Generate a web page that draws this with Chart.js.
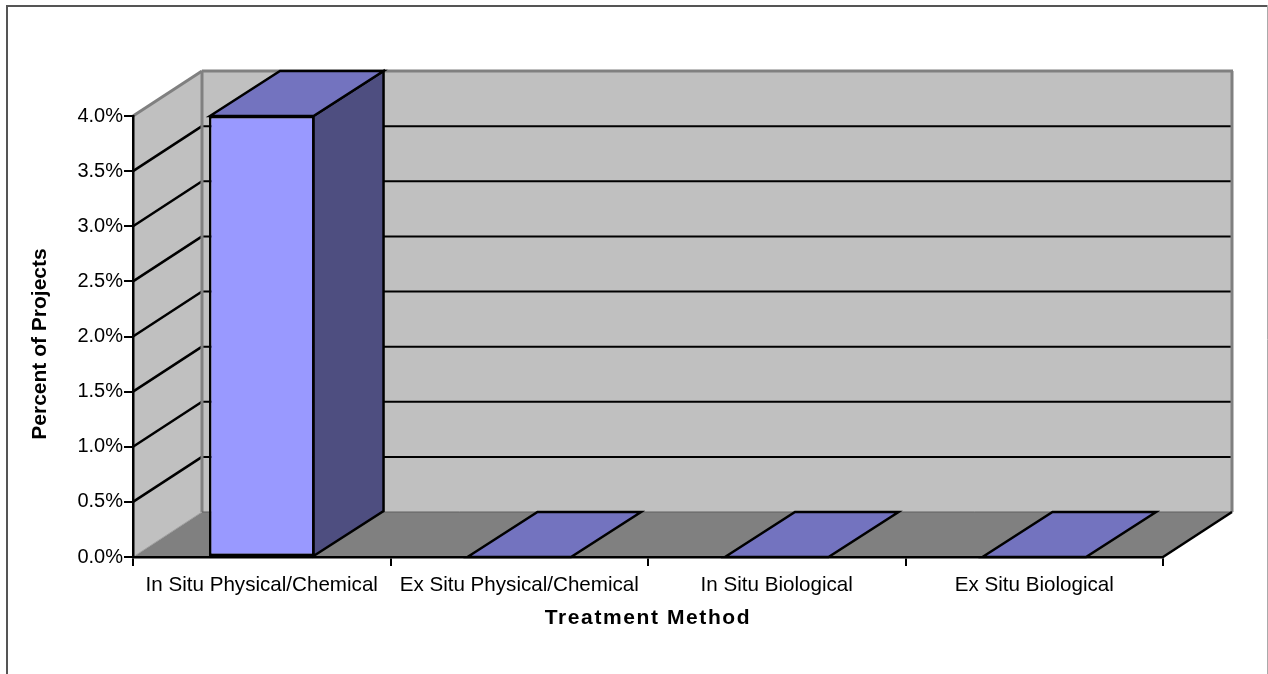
<!DOCTYPE html>
<html>
<head>
<meta charset="utf-8">
<title>Percent of Projects by Treatment Method</title>
<script src="https://cdn.jsdelivr.net/npm/chart.js@4"></script>
<style>
  html, body { margin: 0; padding: 0; background: #fff; overflow: hidden; }
  canvas { display: block; }
</style>
</head>
<body>
<canvas id="chart" width="1268" height="674"></canvas>
<script>
const categories = ['In Situ Physical/Chemical', 'Ex Situ Physical/Chemical', 'In Situ Biological', 'Ex Situ Biological'];
const percentOfProjects = [4.0, 0, 0, 0];
const yTickLabels = ['0.0%', '0.5%', '1.0%', '1.5%', '2.0%', '2.5%', '3.0%', '3.5%', '4.0%'];

// how far the fake 3d box goes back
const depthX = 69;
const depthY = -45;

function poly(ctx, pts, fill, stroke, lw) {
  ctx.beginPath();
  pts.forEach((p, i) => i ? ctx.lineTo(p[0], p[1]) : ctx.moveTo(p[0], p[1]));
  ctx.closePath();
  if (fill) { ctx.fillStyle = fill; ctx.fill(); }
  if (stroke) { ctx.strokeStyle = stroke; ctx.lineWidth = lw; ctx.stroke(); }
}

function line(ctx, x1, y1, x2, y2, color, lw) {
  ctx.beginPath();
  ctx.moveTo(x1, y1);
  ctx.lineTo(x2, y2);
  ctx.strokeStyle = color;
  ctx.lineWidth = lw;
  ctx.stroke();
}

const box3d = {
  id: 'box3d',
  afterLayout(chart) {
    // axis title options can't do letter spacing or an off-centre title
    const { ctx, scales: { x, y } } = chart;
    const drawX = x.drawTitle, drawY = y.drawTitle;
    x.drawTitle = function () {
      ctx.save();
      ctx.letterSpacing = '1.6px';
      drawX.call(x);
      ctx.restore();
    };
    y.drawTitle = function () {
      ctx.save();
      ctx.translate(0, 7.5);
      drawY.call(y);
      ctx.restore();
    };
  },
  beforeDraw(chart) {
    const { ctx, chartArea: a, scales: { y } } = chart;
    const bx = depthX, by = depthY;
    ctx.save();
    // outer frame, bottom edge is cut off in the original
    line(ctx, 7, 6, 7, 674, '#555', 2);
    line(ctx, 6, 6, 1268, 6, '#555', 2);
    line(ctx, 1267.5, 5, 1267.5, 674, '#aaa', 1);

    // walls and floor
    poly(ctx, [[a.left + bx, a.top + by], [a.right + bx, a.top + by], [a.right + bx, a.bottom + by], [a.left + bx, a.bottom + by]], '#c0c0c0');
    poly(ctx, [[a.left, a.top], [a.left + bx, a.top + by], [a.left + bx, a.bottom + by], [a.left, a.bottom]], '#c0c0c0');
    poly(ctx, [[a.left, a.bottom], [a.right, a.bottom], [a.right + bx, a.bottom + by], [a.left + bx, a.bottom + by]], '#808080');

    // gridlines run along the side wall then the back wall
    yTickLabels.forEach((_, i) => {
      if (i === 0 || i === yTickLabels.length - 1) return;
      const py = y.getPixelForValue(i * 0.5);
      line(ctx, a.left, py, a.left + bx, py + by, '#000', 2.5);
      line(ctx, a.left + bx, py + by, a.right + bx, py + by, '#000', 2);
    });

    // wall edges
    line(ctx, a.left, a.top, a.left + bx, a.top + by, '#808080', 3);
    line(ctx, a.left + bx, a.top + by, a.right + bx + 1, a.top + by, '#808080', 3);
    line(ctx, a.left + bx, a.top + by, a.left + bx, a.bottom + by, '#808080', 3);
    line(ctx, a.right + bx, a.top + by, a.right + bx, a.bottom + by, '#808080', 3);
    line(ctx, a.left + bx, a.bottom + by, a.right + bx, a.bottom + by, '#606060', 1);
    line(ctx, a.left, a.bottom, a.left + bx, a.bottom + by, '#a0a0a0', 1);
    line(ctx, a.right, a.bottom, a.right + bx, a.bottom + by, '#000', 2.5);
    ctx.restore();
  },
  afterDatasetsDraw(chart) {
    const { ctx } = chart;
    const meta = chart.getDatasetMeta(0);
    ctx.save();
    meta.data.forEach(bar => {
      const l = bar.x - bar.width / 2 + 1;
      const r = bar.x + bar.width / 2 - 1;
      const t = Math.min(bar.y, bar.base);
      const b = bar.base;
      const dx = depthX + 1, dy = depthY;
      // side first, top over it
      if (b - t > 0) {
        poly(ctx, [[r, t], [r + dx, t + dy], [r + dx, b + dy], [r, b]], '#4e4e80', '#000', 2.5);
      }
      poly(ctx, [[l, t], [l + dx, t + dy], [r + dx, t + dy], [r, t]], '#7373bf', '#000', 2.5);
    });
    ctx.restore();
  }
};

new Chart(document.getElementById('chart'), {
  type: 'bar',
  data: {
    labels: categories,
    datasets: [{
      label: 'Percent of Projects',
      data: percentOfProjects,
      backgroundColor: '#9999ff',
      borderColor: '#000',
      borderWidth: 2.5,
      borderSkipped: false,
      categoryPercentage: 1,
      barPercentage: 0.41
    }]
  },
  options: {
    responsive: false,
    animation: false,
    layout: { padding: { top: 116, right: 105, bottom: 0, left: 0 } },
    plugins: { legend: { display: false }, tooltip: { enabled: false } },
    scales: {
      x: {
        afterFit(s) { s.height = 117; },
        grid: { display: true, drawOnChartArea: false, drawTicks: true, tickLength: 9, color: '#000', lineWidth: 2 },
        border: { color: '#000', width: 2.5, z: 1 },
        ticks: {
          color: '#000',
          font: { family: 'Liberation Sans', size: 20.6 },
          autoSkip: false,
          maxRotation: 0,
          padding: 7
        },
        title: {
          display: true,
          text: 'Treatment Method',
          color: '#000',
          font: { family: 'Liberation Sans', size: 21, weight: 'bold' },
          padding: { top: 0, bottom: 43 }
        }
      },
      y: {
        min: 0,
        max: 4,
        afterFit(s) { s.width = 133; },
        grid: { display: true, drawOnChartArea: false, drawTicks: true, tickLength: 9, color: '#000', lineWidth: 2 },
        border: { color: '#000', width: 2.5, z: 1 },
        ticks: {
          stepSize: 0.5,
          color: '#000',
          font: { family: 'Liberation Sans', size: 20 },
          padding: 1,
          callback: (v, i) => yTickLabels[i]
        },
        title: {
          display: true,
          text: 'Percent of Projects',
          color: '#000',
          font: { family: 'Liberation Sans', size: 21, weight: 'bold' },
          padding: { top: 28, bottom: 0 }
        }
      }
    }
  },
  plugins: [box3d]
});
</script>
</body>
</html>
